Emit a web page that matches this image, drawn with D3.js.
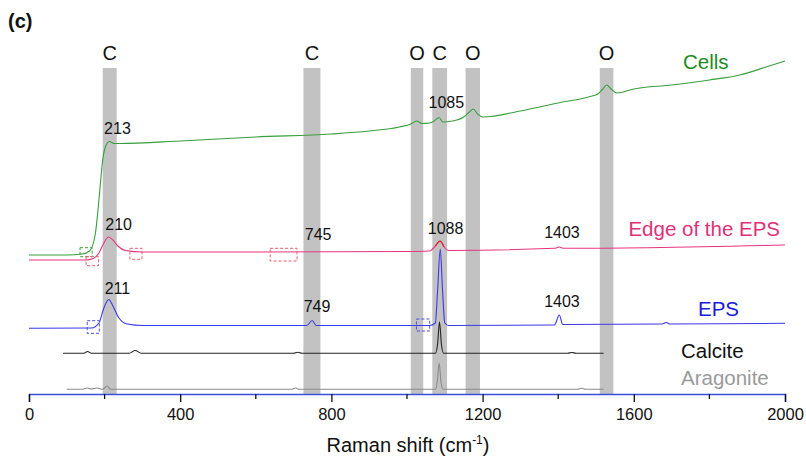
<!DOCTYPE html>
<html>
<head>
<meta charset="utf-8">
<script src="https://cdn.jsdelivr.net/npm/d3@7"></script>
<style>
  body { margin: 0; background: #fff; }
  svg { font-family: "Liberation Sans", Arial, sans-serif; }
</style>
</head>
<body>
<div id="chart"></div>
<script>
// Raman spectra, intensities in arbitrary units (offset stacked)
const cells = [
    [0, 139], [100, 139], [140, 140], [160, 143], [175, 159], [185, 194], [195, 234],
    [203, 248], [213, 252.5], [225, 250.5], [240, 250.5], [400, 253], [600, 257],
    [800, 260], [900, 263], [980, 267], [1010, 270], [1025, 273], [1040, 270.5],
    [1060, 271], [1072, 273], [1085, 276.5], [1095, 272], [1120, 273], [1150, 277],
    [1165, 282], [1175, 285], [1187, 280], [1200, 277], [1300, 283], [1400, 291],
    [1480, 297], [1505, 300], [1518, 305], [1528, 309], [1540, 305], [1555, 301],
    [1600, 305], [1700, 309], [1800, 314], [1880, 319], [1950, 327], [2000, 333]
];
const edgeEps = [
    [0, 134], [150, 134], [170, 135.5], [185, 141], [198, 151], [210, 157], [222, 154],
    [235, 148], [255, 143.5], [300, 142], [600, 142], [1000, 142.5], [1060, 143],
    [1075, 148], [1088, 153], [1098, 147], [1110, 143.5], [1390, 145.7], [1403, 147],
    [1415, 145.7], [2000, 149]
];
const eps = [
    [0, 65.7], [165, 66], [185, 71], [198, 86], [211, 94.5], [222, 88], [238, 76],
    [260, 70], [300, 68.5], [735, 68.5], [749, 73.5], [760, 68.5], [1060, 68.5],
    [1075, 71], [1081, 104], [1088, 145], [1094, 104], [1100, 71], [1110, 68.5],
    [1390, 69], [1403, 79], [1412, 69.5], [1675, 70], [1686, 71.5], [1695, 70], [2000, 70.7]
];
const calcite = [
    [90, 40.7], [145, 40.7], [155, 42.5], [165, 40.7], [265, 40.7], [281, 43.5],
    [297, 40.7], [700, 40.7], [711, 41.7], [722, 40.7], [1075, 40.7], [1081, 50],
    [1086, 72.3], [1091, 50], [1097, 40.7], [1425, 40.7], [1436, 41.5], [1447, 40.7],
    [1520, 40.7]
];
const aragonite = [
    [100, 4.7], [140, 4.7], [153, 6], [165, 5], [180, 6], [195, 4.7], [206, 8],
    [216, 4.7], [695, 4.7], [705, 6], [715, 4.7], [1075, 4.7], [1080, 12],
    [1085, 31], [1090, 12], [1095, 4.7], [1452, 4.7], [1462, 5.7], [1472, 4.7],
    [1520, 4.7]
];

// Assignment bands (C = carotenoid-like / carbonate, O = organic)
const bandLetters = ['C', 'C', 'O', 'C', 'O', 'O'];
const bandStart = [195, 726, 1010, 1067, 1155, 1510];
const bandEnd = [232, 771, 1043, 1106, 1193, 1546];
const bandTop = 326;

// Peak labels: text, shift, intensity of baseline
const peakText = ['213', '1085', '210', '745', '1088', '1403', '211', '749', '1403'];
const peakShift = [234, 1104, 237, 765, 1102, 1410, 234, 762, 1410];
const peakLevel = [260, 286, 164, 154, 160, 156, 100, 82, 87];

// Dashed marker boxes [x0, x1, y0, y1]
const boxes = [
    [135, 167, 137.3, 146.3, '#3aa03a'],
    [151, 184, 128.3, 137.3, '#ee5a6a'],
    [267, 299, 134.7, 145.7, '#ee5a6a'],
    [638, 709, 133, 145.7, '#ee5a6a'],
    [154, 186, 60.7, 73.3, '#4a4ae8'],
    [1025, 1060, 63, 75, '#4a4ae8']
];

const seriesNames = ['Cells', 'Edge of the EPS', 'EPS', 'Calcite', 'Aragonite'];
const seriesData = [cells, edgeEps, eps, calcite, aragonite];
const lineColors = ['#36a03c', '#e8347f', '#3a3ae6', '#222222', '#8a8a8a'];
const textColors = ['#1c8c22', '#e0307a', '#1a1ae0', '#111111', '#9a9a9a'];
const nameLevel = [325, 158, 78, 36, 9];

const majorTicks = [0, 400, 800, 1200, 1600, 2000];
const minorTicks = [200, 600, 1000, 1400, 1800];

const width = 806;
const height = 457;

const svg = d3.select('#chart')
    .append('svg')
    .attr('width', width)
    .attr('height', height);

const x = d3.scaleLinear().domain([0, 2000]).range([29, 785]);
const y = d3.scaleLinear().domain([0, 340]).range([394, 54]);

// Gray bands
svg.append('g')
    .selectAll('rect')
    .data(bandLetters)
    .join('rect')
    .attr('x', (d, i) => x(bandStart[i]))
    .attr('width', (d, i) => x(bandEnd[i]) - x(bandStart[i]))
    .attr('y', y(bandTop))
    .attr('height', y(0) - y(bandTop))
    .attr('fill', '#c2c2c2');

svg.append('g')
    .selectAll('text')
    .data(bandLetters)
    .join('text')
    .attr('x', (d, i) => x((bandStart[i] + bandEnd[i]) / 2))
    .attr('y', 60)
    .attr('text-anchor', 'middle')
    .style('font-size', '20px')
    .attr('fill', '#111')
    .text(d => d);

// Spectra
const line = d3.line()
    .x(d => x(d[0]))
    .y(d => y(d[1]))
    .curve(d3.curveMonotoneX);

svg.append('g')
    .selectAll('path')
    .data(seriesData)
    .join('path')
    .attr('d', line)
    .attr('fill', 'none')
    .attr('stroke', (d, i) => lineColors[i])
    .attr('stroke-width', 1.1);

// red tip on the 1088 peak of the EPS edge
svg.append('path')
    .attr('d', line(edgeEps.filter(d => d[0] >= 1075 && d[0] <= 1098)))
    .attr('fill', 'none')
    .attr('stroke', '#e82020')
    .attr('stroke-width', 1.1);

// Dashed boxes
svg.append('g')
    .selectAll('rect')
    .data(boxes)
    .join('rect')
    .attr('x', d => x(d[0]))
    .attr('width', d => x(d[1]) - x(d[0]))
    .attr('y', d => y(d[3]))
    .attr('height', d => y(d[2]) - y(d[3]))
    .attr('fill', 'none')
    .attr('stroke', d => d[4])
    .attr('stroke-width', 1)
    .attr('stroke-dasharray', '3,2');

// Peak labels
svg.append('g')
    .selectAll('text')
    .data(peakText)
    .join('text')
    .attr('x', (d, i) => x(peakShift[i]))
    .attr('y', (d, i) => y(peakLevel[i]))
    .attr('text-anchor', 'middle')
    .style('font-size', '16px')
    .attr('fill', '#111')
    .text(d => d);

// Series names
svg.append('g')
    .selectAll('text')
    .data(seriesNames)
    .join('text')
    .attr('x', (d, i) => i === 1 ? 780 : (i === 0 ? 683 : (i === 2 ? 698 : 681)))
    .attr('y', (d, i) => y(nameLevel[i]))
    .attr('text-anchor', (d, i) => i === 1 ? 'end' : 'start')
    .style('font-size', '20.5px')
    .attr('fill', (d, i) => textColors[i])
    .text(d => d);

// Axis
const axisG = svg.append('g')
    .attr('transform', `translate(0,${y(0)})`);

axisG.call(d3.axisBottom(x).tickValues(majorTicks).tickSize(8).tickFormat(d3.format('d')));
axisG.select('.domain').attr('stroke', '#3a4fe0').attr('stroke-width', 1.5);
axisG.selectAll('.tick line').attr('stroke', '#111').attr('stroke-width', 1.3);
axisG.selectAll('.tick text')
    .attr('y', 26)
    .attr('dy', null)
    .attr('fill', '#111')
    .style('font-size', '16.5px')
    .style('font-family', '"Liberation Sans", Arial, sans-serif');

axisG.append('g')
    .selectAll('line')
    .data(minorTicks)
    .join('line')
    .attr('x1', d => x(d))
    .attr('x2', d => x(d))
    .attr('y1', 0)
    .attr('y2', 5)
    .attr('stroke', '#111')
    .attr('stroke-width', 1.3);

// Axis title
const title = svg.append('text')
    .attr('x', 408)
    .attr('y', 452)
    .attr('text-anchor', 'middle')
    .style('font-size', '20px')
    .attr('fill', '#111');
title.append('tspan').text('Raman shift (cm');
title.append('tspan').attr('dy', -8).style('font-size', '12px').text('-1');
title.append('tspan').attr('dy', 8).text(')');

// Panel letter
svg.append('text')
    .attr('x', 8)
    .attr('y', 28)
    .style('font-size', '20px')
    .style('font-weight', 'bold')
    .attr('fill', '#111')
    .text('(c)');
</script>
</body>
</html>
